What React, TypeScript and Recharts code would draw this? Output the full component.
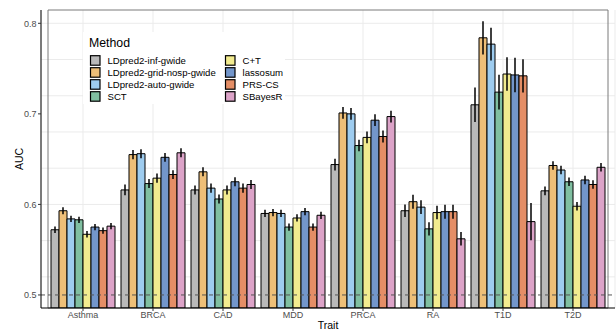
import {
  Bar,
  BarChart,
  CartesianGrid,
  ErrorBar,
  Legend,
  ReferenceArea,
  ReferenceLine,
  XAxis,
  YAxis
} from 'recharts'

const traits = ['Asthma', 'BRCA', 'CAD', 'MDD', 'PRCA', 'RA', 'T1D', 'T2D']

const methods = [
  'LDpred2-inf-gwide',
  'LDpred2-grid-nosp-gwide',
  'LDpred2-auto-gwide',
  'SCT',
  'C+T',
  'lassosum',
  'PRS-CS',
  'SBayesR'
]

const methodColors = [
  '#B9B9B9',
  '#EEBF78',
  '#9ECCEF',
  '#80BFA1',
  '#F2EB8F',
  '#7396CB',
  '#E48E66',
  '#DCA3C8'
]

// AUC per method, one value per trait (same order as traits)
const aucInf = [0.572, 0.616, 0.616, 0.590, 0.644, 0.593, 0.710, 0.615]
const aucGridNosp = [0.593, 0.655, 0.636, 0.591, 0.701, 0.603, 0.784, 0.643]
const aucAuto = [0.584, 0.656, 0.618, 0.590, 0.700, 0.597, 0.777, 0.638]
const aucSct = [0.583, 0.623, 0.606, 0.575, 0.665, 0.573, 0.724, 0.625]
const aucCT = [0.567, 0.629, 0.616, 0.585, 0.674, 0.591, 0.744, 0.598]
const aucLassosum = [0.575, 0.652, 0.625, 0.592, 0.693, 0.592, 0.743, 0.627]
const aucPrscs = [0.571, 0.633, 0.618, 0.575, 0.675, 0.592, 0.742, 0.622]
const aucSbayesr = [0.576, 0.657, 0.622, 0.588, 0.697, 0.562, 0.581, 0.641]

// half width of the interval
const errInf = [0.0037, 0.006, 0.005, 0.004, 0.0065, 0.0068, 0.019, 0.0048]
const errGridNosp = [0.0039, 0.005, 0.005, 0.004, 0.0065, 0.0077, 0.0184, 0.0046]
const errAuto = [0.0035, 0.005, 0.005, 0.004, 0.0065, 0.0077, 0.018, 0.0046]
const errSct = [0.0035, 0.005, 0.005, 0.004, 0.0064, 0.0074, 0.0193, 0.0047]
const errCT = [0.0035, 0.005, 0.005, 0.004, 0.0064, 0.0074, 0.0184, 0.0047]
const errLassosum = [0.0035, 0.0048, 0.005, 0.004, 0.0065, 0.0077, 0.019, 0.0047]
const errPrscs = [0.0035, 0.0048, 0.005, 0.004, 0.0065, 0.0077, 0.0184, 0.0048]
const errSbayesr = [0.0035, 0.005, 0.005, 0.004, 0.0065, 0.0075, 0.0206, 0.0047]

const aucByMethod = [aucInf, aucGridNosp, aucAuto, aucSct, aucCT, aucLassosum, aucPrscs, aucSbayesr]
const errByMethod = [errInf, errGridNosp, errAuto, errSct, errCT, errLassosum, errPrscs, errSbayesr]

const yTicks = [0.5, 0.6, 0.7, 0.8]
const gridBreaks = [0.5, 0.52, 0.54, 0.56, 0.58, 0.6, 0.62, 0.64, 0.66, 0.68, 0.7, 0.72, 0.74, 0.76, 0.78, 0.8]
const yDomain = [0.4856, 0.8147]

const data = traits.map((trait, t) => {
  const row: Record<string, string | number> = { trait }
  methods.forEach((_, m) => {
    row[`m${m}`] = aucByMethod[m][t]
    row[`e${m}`] = errByMethod[m][t]
  })
  return row
})

const FONT = '"Liberation Sans", Arial, sans-serif'

function MethodLegend() {
  return (
    <svg width={202} height={72} style={{ display: 'block' }}>
      <rect x={0} y={0} width={202} height={72} fill="#fff" />
      <text x={6} y={15} fontSize={12.3} fill="#000" fontFamily={FONT}>
        Method
      </text>
      {methods.map((name, i) => {
        const col = i < 4 ? 0 : 1
        const cy = 28.7 + (i % 4) * 12
        const kx = col === 0 ? 7.5 : 142.5
        return (
          <g key={name}>
            <rect
              x={kx}
              y={cy - 5}
              width={9.5}
              height={9.5}
              fill={methodColors[i]}
              stroke="#000"
              strokeWidth={1.2}
            />
            <text x={kx + 17} y={cy + 3.5} fontSize={9.6} fill="#000" fontFamily={FONT}>
              {name}
            </text>
          </g>
        )
      })}
    </svg>
  )
}

export default function App() {
  return (
    <div style={{ width: 616, height: 330, fontFamily: FONT, background: '#fff' }}>
      <style>{'body{margin:0}'}</style>
      <BarChart
        width={616}
        height={330}
        data={data}
        margin={{ top: 10, right: 1, bottom: 0, left: 0 }}
        barCategoryGap={3}
        barGap={0}
      >
        <CartesianGrid stroke="#EBEBEB" strokeWidth={1} horizontalValues={gridBreaks} />
        <XAxis
          dataKey="trait"
          padding={{ left: 7, right: 7 }}
          height={22}
          tickSize={3}
          tickMargin={1}
          tick={{ fill: '#4D4D4D', fontSize: 9 }}
          tickLine={{ stroke: '#333' }}
          axisLine={{ stroke: '#000' }}
          label={{ value: 'Trait', position: 'insideBottom', offset: 1, fontSize: 10.5, fill: '#000' }}
        />
        <YAxis
          type="number"
          domain={yDomain}
          allowDataOverflow
          ticks={yTicks}
          width={41}
          tickSize={3}
          tickMargin={1.5}
          tick={{ fill: '#4D4D4D', fontSize: 9 }}
          tickLine={{ stroke: '#333' }}
          axisLine={{ stroke: '#000' }}
          tickFormatter={(v: number) => v.toFixed(1)}
          label={{ value: 'AUC', angle: -90, position: 'center', dx: -1.5, fontSize: 10.5, fill: '#000' }}
        />
        {methods.map((name, m) => (
          <Bar
            key={name}
            dataKey={`m${m}`}
            name={name}
            fill={methodColors[m]}
            stroke="#000"
            strokeWidth={1}
            isAnimationActive={false}
          >
            <ErrorBar dataKey={`e${m}`} width={0} stroke="#000" strokeWidth={1.5} direction="y" />
          </Bar>
        ))}
        <ReferenceLine y={0.5} stroke="#555" strokeDasharray="4 3" strokeWidth={1} />
        <ReferenceArea y1={yDomain[0]} y2={yDomain[1]} fill="none" stroke="#7A7A7A" strokeWidth={1} />
        <Legend
          layout="horizontal"
          verticalAlign="middle"
          align="center"
          content={() => <MethodLegend />}
          wrapperStyle={{ left: 83, top: 32, width: 202, height: 72 }}
        />
      </BarChart>
    </div>
  )
}
